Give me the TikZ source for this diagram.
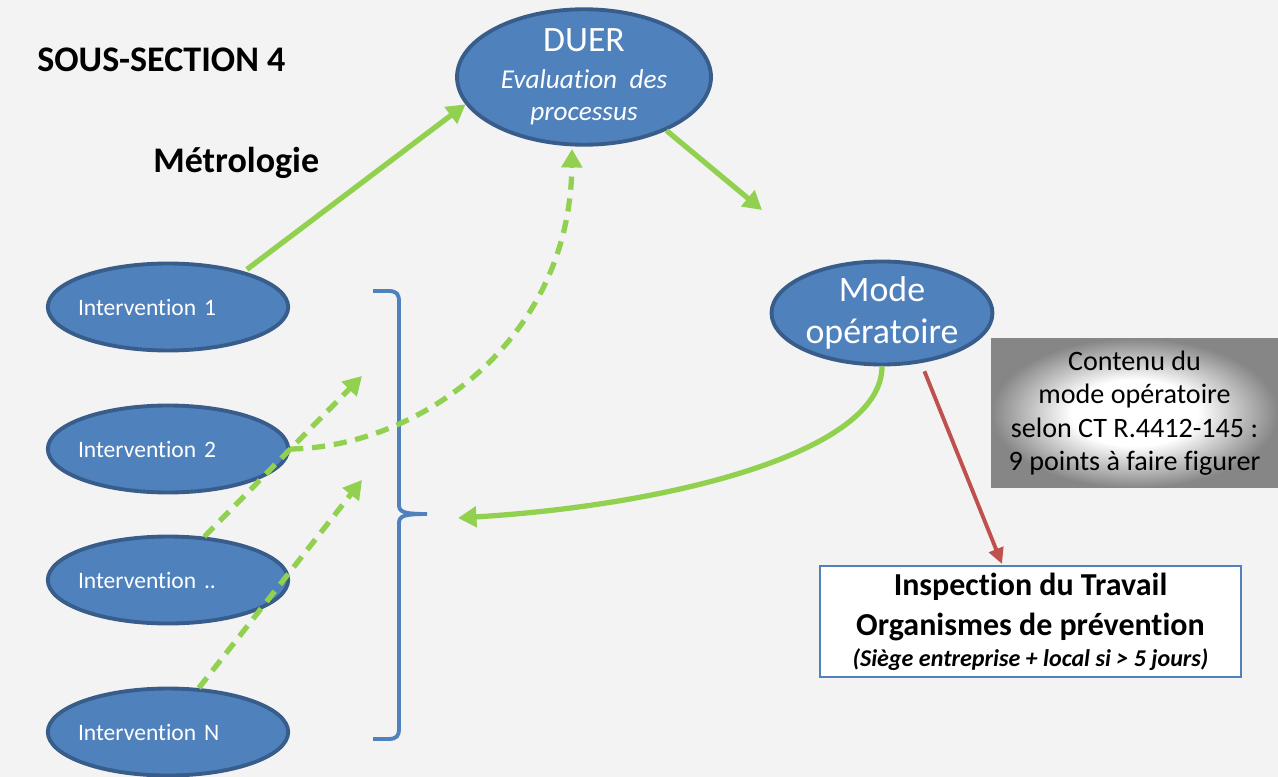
\documentclass[tikz,border=0pt]{standalone}
\usepackage{fontspec}
\setmainfont{Carlito}[Ligatures=NoCommon]
\usetikzlibrary{arrows.meta,shapes.geometric}
\definecolor{bleu}{HTML}{4F81BD}
\definecolor{bleufonce}{HTML}{385D8A}
\definecolor{vert}{HTML}{92D050}
\definecolor{rouge}{HTML}{C0504D}
\definecolor{fond}{HTML}{F3F3F3}
\pgfdeclareradialshading{grisbord}{\pgfpoint{0bp}{0bp}}{color(0bp)=(white); color(11bp)=(white); color(25bp)=(gray!95); color(50bp)=(gray!95)}

\begin{document}
\begin{tikzpicture}[x=0.02cm,y=-0.02cm,
    bulle/.style={ellipse,draw=bleufonce,line width=2.2pt,fill=bleu,text=white,inner sep=0pt,align=center},
    interv/.style={bulle,minimum width=4.76cm,minimum height=1.74cm,text width=3.6cm,inner xsep=-0.1cm,align=left,font=\fontsize{13.4}{16}\selectfont},
    fleche/.style={draw=vert,line width=3pt,-{Triangle[length=10.5pt,width=11.5pt]}},
    pointille/.style={fleche,dash pattern=on 7.5pt off 5pt}]
    \fill[fond] (0,0) rectangle (1278,777);
    \useasboundingbox (0,0) rectangle (1278,777);

    \node[anchor=base west,inner sep=0pt,font=\bfseries\fontsize{20.5}{24}\selectfont] (titre) at (37,72) {SOUS-SECTION 4};
    \node[anchor=base west,inner sep=0pt,font=\bfseries\fontsize{20.5}{24}\selectfont] (metro) at (153,173) {Métrologie};

    \node[bulle,minimum width=5.08cm,minimum height=2.6cm,font=\itshape\fontsize{15.5}{18.5}\selectfont] (duer) at (584,77)
        {{\upshape\fontsize{20.3}{21}\selectfont DUER}\\[2pt]Evaluation~ des\\processus};
    \node[bulle,minimum width=4.42cm,minimum height=1.9cm,font=\fontsize{20.4}{24}\selectfont] (mode) at (882,313) {Mode\\opératoire};

    \node[interv] (int1) at (168,307) {Intervention 1};
    \node[interv] (int2) at (168,449) {Intervention 2};
    \node[interv] (int3) at (168,580) {Intervention ..};
    \node[interv] (intN) at (168,732) {Intervention N};

    \node[shading=grisbord,minimum width=5.74cm,minimum height=3cm,inner sep=0pt,align=center,font=\fontsize{16}{19}\selectfont] (contenu) at (1134.5,413)
        {Contenu du\\mode opératoire\\selon CT R.4412-145 :\\9 points à faire figurer};
    \node[draw=bleu,line width=1.2pt,fill=white,minimum width=8.42cm,minimum height=2.22cm,inner sep=0pt,align=center,font=\bfseries\fontsize{18.2}{22.8}\selectfont] (inspect) at (1030.5,621.5)
        {Inspection du Travail\\Organismes de prévention\\[-5pt]{\itshape\fontsize{13.7}{15}\selectfont(Siège entreprise + local si > 5 jours)}};

    % accolade
    \draw[bleu,line width=2.2pt] (373,291) -- (388,291) .. controls (397,291) and (399,294) .. (399,302) -- (399,505)
        .. controls (399,512) and (404,514) .. (427,514) .. controls (404,514) and (399,516) .. (399,523)
        -- (399,728) .. controls (399,736) and (397,739) .. (388,739) -- (373,739);

    \coordinate (finM) at (762,210);
    \coordinate (finD) at (572,149);
    \coordinate (finB) at (458,518);
    \coordinate (fin3) at (362,376);
    \coordinate (finN) at (362,480);
    \coordinate (finR) at (1002,564);

    \draw[fleche,shorten <=2pt] (int1.25) -- (duer.193);
    \draw[fleche] (duer.-33) -- (finM);
    \draw[fleche] (mode.south) .. controls +(0,85) and +(215,-13) .. (finB);
    \draw[draw=rouge,line width=2.2pt,shorten <=5pt,-{Triangle[length=9pt,width=8.5pt]}] (mode.-52) -- (finR);
    \draw[pointille] (int2.east) .. controls (420,447) and (570,340) .. (finD);
    \draw[pointille] (int3.50) -- (fin3);
    \draw[pointille] (intN.55) -- (finN);
\end{tikzpicture}
\end{document}
